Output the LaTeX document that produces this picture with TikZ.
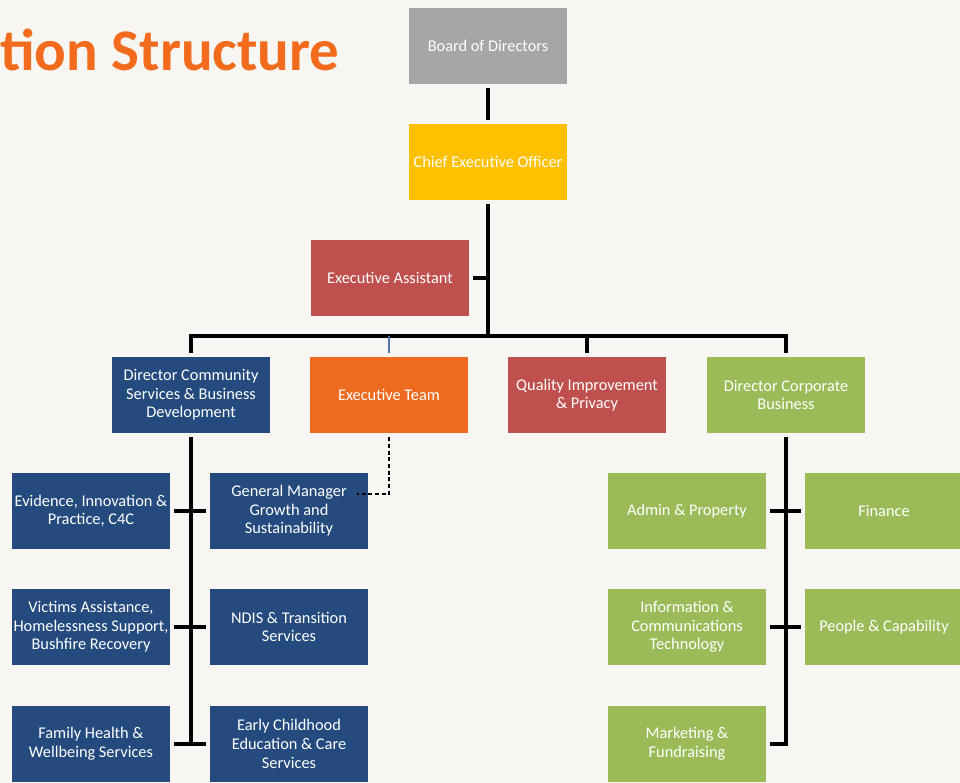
\documentclass[tikz,border=0pt]{standalone}
\usepackage{fontspec}
\setmainfont{Carlito}
\usepackage{xcolor}
\usepackage{tikz}

\definecolor{boardgray}{HTML}{A6A6A6}
\definecolor{ceogold}{HTML}{FFC000}
\definecolor{brickred}{HTML}{C0504D}
\definecolor{navy}{HTML}{244A7E}
\definecolor{teamorange}{HTML}{EE6A1F}
\definecolor{corpgreen}{HTML}{9BBB59}
\definecolor{titleorange}{HTML}{F36C1E}
\definecolor{paper}{HTML}{F7F6F3}
\definecolor{stubblue}{HTML}{5571AE}

\begin{document}
\begin{tikzpicture}[x=0.02cm, y=-0.02cm,
                box/.style={minimum width=3.16cm, minimum height=1.52cm, inner sep=0.5pt,
                            outer sep=2.5pt, align=center, text=white,
                            font=\fontsize{9.3}{10.6}\selectfont},
                link/.style={black, line width=2.2pt}]

                \useasboundingbox (0,0) rectangle (960,783);
                \fill[paper] (0,0) rectangle (960,783);
                \clip (0,0) rectangle (960,783);

                %% title
                \node[anchor=base west, inner sep=0, text=titleorange,
                      font=\fontsize{33.6}{38}\selectfont\bfseries] (title) at (0,71) {tion Structure};

                %% top
                \node[box, fill=boardgray] (board) at (488,46) {Board of Directors};
                \node[box, fill=ceogold] (ceo) at (488,162) {Chief Executive Officer};
                \node[box, fill=brickred] (ea) at (390,278) {Executive Assistant};

                \coordinate (bar) at (488,336);
                \draw[link] (board) -- (ceo);
                \draw[link] (ceo) -- (bar);
                \draw[link] (ea) -- (ea -| ceo);

                %% directors
                \node[box, fill=navy] (dcs) at (191,395) {Director Community\\Services \& Business\\Development};
                \node[box, fill=teamorange] (team) at (389,395) {Executive Team};
                \node[box, fill=brickred] (qip) at (587,395) {Quality Improvement\\\& Privacy};
                \node[box, fill=corpgreen] (dcb) at (786,395) {Director Corporate\\Business};

                \draw[link] (dcs) |- (bar) -| (dcb);
                \draw[link] (qip) -- (qip |- bar);
                \draw[stubblue, line width=1.2pt] (team) -- (team |- bar);

                %DCS
                \node[box, fill=navy] (evid) at (91,511) {Evidence, Innovation \&\\Practice, C4C};
                \node[box, fill=navy] (gm) at (289,511) {General Manager\\Growth and\\Sustainability};
                \node[box, fill=navy] (vict) at (91,627) {Victims Assistance,\\Homelessness Support,\\Bushfire Recovery};
                \node[box, fill=navy] (ndis) at (289,627) {NDIS \& Transition\\Services};
                \node[box, fill=navy] (fam) at (91,744) {Family Health \&\\Wellbeing Services};
                \node[box, fill=navy] (early) at (289,744) {Early Childhood\\Education \& Care\\Services};

                \draw[link] (dcs) -- (dcs |- fam);
                \draw[link] (evid) -- (gm);
                \draw[link] (vict) -- (ndis);
                \draw[link] (fam) -- (early);

                %team
                \coordinate (gmtap) at (357,494);
                \draw[black, line width=0.8pt, dash pattern=on 2.2pt off 1.6pt] (team) |- (gmtap);

                %DCB
                \node[box, fill=corpgreen] (admin) at (687,511) {Admin \& Property};
                \node[box, fill=corpgreen] (fin) at (884,511) {Finance};
                \node[box, fill=corpgreen] (ict) at (687,627) {Information \&\\Communications\\Technology};
                \node[box, fill=corpgreen] (people) at (884,627) {People \& Capability};
                \node[box, fill=corpgreen] (mkt) at (687,744) {Marketing \&\\Fundraising};

                \draw[link] (dcb) |- (mkt);
                \draw[link] (admin) -- (fin);
                \draw[link] (ict) -- (people);

            \end{tikzpicture}
\end{document}
